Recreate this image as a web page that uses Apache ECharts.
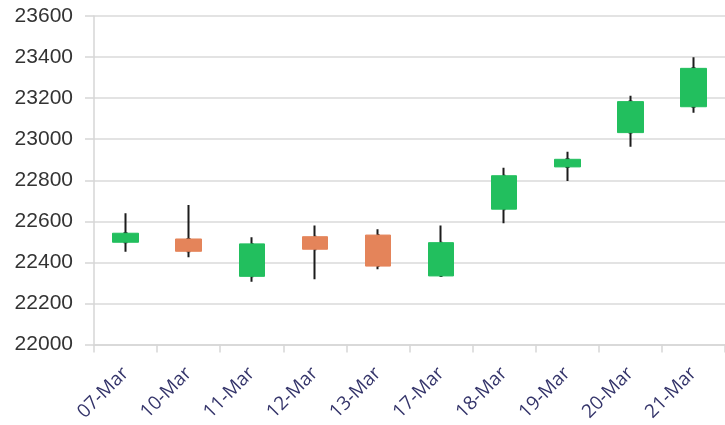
<!DOCTYPE html>
<html>
<head>
<meta charset="utf-8">
<script src="https://cdn.jsdelivr.net/npm/echarts@6/dist/echarts.min.js"></script>
<style>
  html, body { margin: 0; padding: 0; background: #fff; }
  #main { width: 725px; height: 425px; }
</style>
</head>
<body>
<div id="main"></div>
<script>
// 日期
const dates = ["07-Mar", "10-Mar", "11-Mar", "12-Mar", "13-Mar", "17-Mar", "18-Mar", "19-Mar", "20-Mar", "21-Mar"];
// 开盘 / 收盘 / 最低 / 最高
const opens  = [22498, 22514, 22332, 22525, 22533, 22334, 22659, 22865, 23032, 23158];
const closes = [22542, 22454, 22490, 22464, 22382, 22496, 22822, 22902, 23183, 23345];
const lows   = [22452, 22425, 22306, 22318, 22366, 22334, 22590, 22796, 22963, 23129];
const highs  = [22639, 22679, 22522, 22579, 22561, 22579, 22861, 22939, 23212, 23399];
// y轴刻度
const yMin = 22000;
const yMax = 23600;
const yStep = 200;

const upColor = "#22bf5e";
const downColor = "#e4845a";
const wickColor = "#1c1c1c";

var myChart = echarts.init(document.getElementById("main"));

// 影线数据
const wickData = dates.map((d, i) => [opens[i], closes[i], lows[i], highs[i]]);
// 实体数据 (没有影线)
const bodyData = dates.map((d, i) => [
  opens[i],
  closes[i],
  Math.min(opens[i], closes[i]),
  Math.max(opens[i], closes[i]),
]);

var option = {
  animation: false,
  title: {
    text: "Nifty Weekly Summary",
    left: 230,
    top: -25.5,
    textStyle: { color: "#2b2b6b", fontSize: 20, fontWeight: "bold", fontFamily: "Open Sans" },
  },
  grid: { left: 94, top: 16, width: 637, height: 328.5 },
  xAxis: {
    type: "category",
    data: dates,
    boundaryGap: true,
    axisLine: { lineStyle: { color: "#d6d6d6", width: 1.5 } },
    axisTick: { show: true, alignWithLabel: false, length: 8, lineStyle: { color: "#d6d6d6", width: 1.5 } },
    axisLabel: {
      rotate: 45,
      margin: 26,
      interval: 0,
      color: "#34346a",
      fontSize: 19,
      fontFamily: "Open Sans",
    },
  },
  yAxis: {
    type: "value",
    min: yMin,
    max: yMax,
    interval: yStep,
    axisLine: { show: true, lineStyle: { color: "#d6d6d6", width: 1.5 } },
    axisTick: { show: true, length: 9, lineStyle: { color: "#d6d6d6", width: 1.5 } },
    splitLine: { lineStyle: { color: "#dadada", width: 1.5 } },
    axisLabel: {
      margin: 21,
      color: "#333",
      fontSize: 21,
      fontFamily: "Liberation Sans",
      formatter: (v) => String(v),
    },
  },
  series: [
    {
      name: "wick",
      type: "candlestick",
      data: wickData,
      barWidth: 2,
      itemStyle: {
        color: wickColor,
        color0: wickColor,
        borderColor: wickColor,
        borderColor0: wickColor,
        borderWidth: 2,
      },
      z: 2,
    },
    {
      name: "body",
      type: "candlestick",
      data: bodyData,
      barWidth: 26,
      itemStyle: {
        color: upColor,
        color0: downColor,
        borderColor: upColor,
        borderColor0: downColor,
        borderWidth: 1,
      },
      z: 3,
    },
  ],
};

myChart.setOption(option);
</script>
</body>
</html>
